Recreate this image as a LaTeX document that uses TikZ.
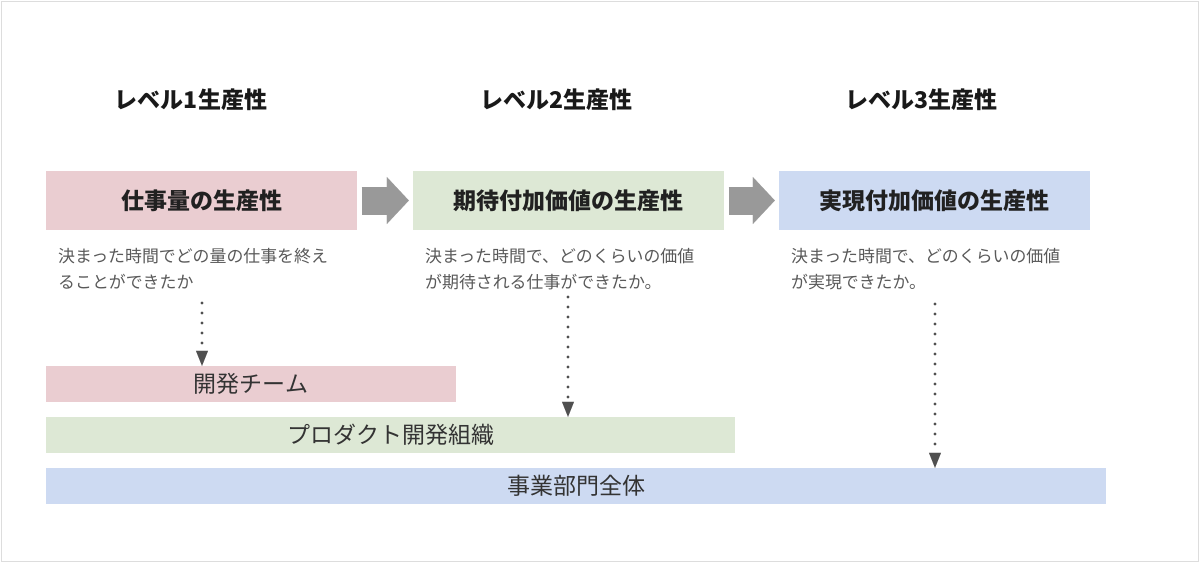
\documentclass[tikz,border=0pt]{standalone}
\usepackage{fontspec}
\setmainfont{Noto Sans CJK JP}
\usetikzlibrary{arrows.meta}
\definecolor{pinkbox}{RGB}{234,205,209}
\definecolor{greenbox}{RGB}{221,232,213}
\definecolor{bluebox}{RGB}{205,218,242}
\definecolor{arrowgray}{RGB}{153,153,153}
\definecolor{dotgray}{RGB}{80,80,80}
\definecolor{desctext}{RGB}{89,89,89}
\definecolor{bartext}{RGB}{51,51,51}
\definecolor{framegray}{RGB}{221,221,221}
\tikzset{
  cjk/.style={inner sep=0pt, text height=20.24pt, text depth=2.76pt},
  heading/.style={cjk, font=\fontsize{23}{28}\selectfont\bfseries, text=black!90},
  levelbox/.style={cjk, minimum height=59pt, font=\fontsize{23}{28}\selectfont\bfseries, text=black!87},
  desc/.style={inner sep=0pt, anchor=base west, align=left, text=desctext, font=\fontsize{16.9}{26}\selectfont},
  bar/.style={cjk, minimum height=36pt, font=\fontsize{23}{28}\selectfont, text=bartext},
  blockarrow/.style={draw=arrowgray, line width=28pt, line cap=butt, shorten <=4.5pt, shorten >=4pt,
    -{Triangle[length=22pt,width=47pt,line width=0.1pt]}},
  dotarrow/.style={draw=dotgray, line width=3.2pt, line cap=round, dash pattern=on 0pt off 10pt,
    -{Triangle[length=15pt,width=12pt,line width=0.1pt]}}
}
\begin{document}
\begin{tikzpicture}[x=1pt,y=-1pt]
\useasboundingbox (0,0) rectangle (1200,563);
\fill[white] (0,0) rectangle (1200,563);
\draw[framegray, line width=1pt] (1.5,1.5) rectangle (1198,561.5);

% headings
\node[heading] (h1) at (191,100) {レベル1生産性};
\node[heading] (h2) at (556,100) {レベル2生産性};
\node[heading] (h3) at (921,100) {レベル3生産性};

% level boxes
\node[levelbox, fill=pinkbox, minimum width=311pt] (b1) at (201.5,200.5) {仕事量の生産性};
\node[levelbox, fill=greenbox, minimum width=311pt] (b2) at (568.5,200.5) {期待付加価値の生産性};
\node[levelbox, fill=bluebox, minimum width=311pt] (b3) at (934.5,200.5) {実現付加価値の生産性};

% block arrows
\draw[blockarrow] (b1.east) -- (b2.west);
\draw[blockarrow] (b2.east) -- (b3.west);

% descriptions
\node[desc] (d1) at (58,288.5) {決まった時間でどの量の仕事を終え\\ることができたか};
\node[desc] (d2) at (425,288.5) {決まった時間で、どのくらいの価値\\が期待される仕事ができたか。};
\node[desc] (d3) at (791,288.5) {決まった時間で、どのくらいの価値\\が実現できたか。};

% bars
\node[bar, fill=pinkbox, minimum width=410pt] (r1) at (251,384) {開発チーム};
\node[bar, fill=greenbox, minimum width=689pt] (r2) at (390.5,435) {プロダクト開発組織};
\node[bar, fill=bluebox, minimum width=1060pt] (r3) at (576,486) {事業部門全体};

% dotted arrows
\coordinate (s1) at (202,303);
\coordinate (s2) at (568,297);
\coordinate (s3) at (935,304);
\draw[dotarrow] (s1) -- (s1 |- r1.north);
\draw[dotarrow] (s2) -- (s2 |- r2.north);
\draw[dotarrow] (s3) -- (s3 |- r3.north);
\end{tikzpicture}
\end{document}
